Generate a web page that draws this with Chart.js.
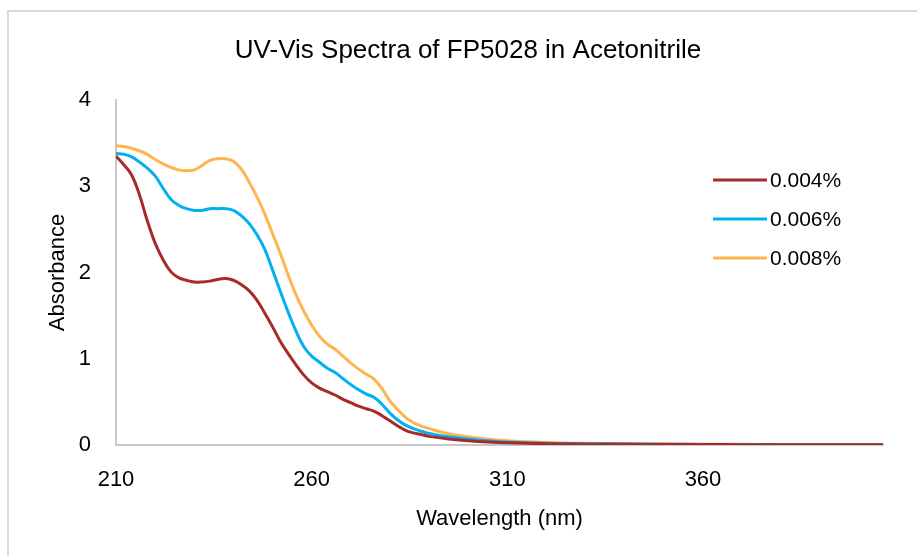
<!DOCTYPE html>
<html>
<head>
<meta charset="utf-8">
<script src="https://cdn.jsdelivr.net/npm/chart.js@4.4.1/dist/chart.umd.min.js"></script>
<style>
  html, body { margin: 0; padding: 0; background: #fff; overflow: hidden; }
  #frame {
    position: absolute; left: 7px; top: 10px; width: 1000px; height: 600px;
    border: 2px solid #d9d9d9; box-sizing: border-box;
  }
  #wrap { position: absolute; left: 0; top: 0; width: 917px; height: 556px; }
</style>
</head>
<body>
<div id="frame"></div>
<div id="wrap"><canvas id="uvChart" width="917" height="556"></canvas></div>
<script>
const wavelengths = [210, 212, 214, 216, 218, 220, 222, 224, 226, 228, 230, 232, 234, 236, 238, 240,
    242, 244, 246, 248, 250, 252, 254, 256, 258, 260, 262, 264, 266, 268, 270, 272, 274, 276, 278,
    280, 282, 284, 286, 288, 290, 295, 300, 305, 310, 320, 330, 340, 350, 360, 370, 380, 390, 400, 406];

const abs004 = [3.35, 3.25, 3.13, 2.90, 2.60, 2.34, 2.15, 2.01, 1.94, 1.91, 1.89, 1.89, 1.90, 1.92, 1.93, 1.91,
    1.86, 1.79, 1.68, 1.53, 1.37, 1.20, 1.06, 0.93, 0.81, 0.72, 0.66, 0.62, 0.58, 0.53, 0.49, 0.45, 0.42, 0.39, 0.34,
    0.28, 0.22, 0.17, 0.14, 0.12, 0.10, 0.07, 0.05, 0.035, 0.025, 0.015, 0.01, 0.008, 0.006, 0.005, 0.004, 0.003, 0.003, 0.002, 0.002];

const abs006 = [3.38, 3.37, 3.34, 3.28, 3.21, 3.12, 2.98, 2.85, 2.78, 2.74, 2.72, 2.72, 2.74, 2.74, 2.74, 2.72,
    2.66, 2.57, 2.44, 2.27, 2.03, 1.78, 1.54, 1.32, 1.14, 1.03, 0.96, 0.89, 0.84, 0.77, 0.70, 0.64, 0.59, 0.55, 0.47,
    0.37, 0.29, 0.23, 0.19, 0.16, 0.135, 0.095, 0.07, 0.05, 0.035, 0.02, 0.015, 0.012, 0.01, 0.006, 0.005, 0.004, 0.003, 0.003, 0.003];

const abs008 = [3.47, 3.46, 3.44, 3.41, 3.37, 3.31, 3.26, 3.22, 3.19, 3.18, 3.19, 3.24, 3.30, 3.32, 3.32, 3.29,
    3.20, 3.05, 2.88, 2.68, 2.45, 2.22, 1.97, 1.74, 1.55, 1.39, 1.26, 1.17, 1.11, 1.03, 0.95, 0.88, 0.82, 0.76, 0.65,
    0.51, 0.41, 0.32, 0.26, 0.22, 0.19, 0.13, 0.095, 0.07, 0.05, 0.03, 0.02, 0.017, 0.014, 0.01, 0.008, 0.006, 0.005, 0.005, 0.004];

const seriesNames = ['0.004%', '0.006%', '0.008%'];
const xTicks = [210, 260, 310, 360];
const yTicks = [0, 1, 2, 3, 4];

const colores = ['#a82b2b', '#00b0f0', '#ffb54f'];
const fuente = "'Liberation Sans', Arial, sans-serif";

function puntos(valores) {
    return wavelengths.map((w, i) => ({ x: w, y: valores[i] }));
}

// leyenda dibujada dentro del area del grafico
const leyendaPlugin = {
    id: 'leyenda',
    afterDraw(chart) {
        const ctx = chart.ctx;
        ctx.save();
        ctx.font = '21px ' + fuente;
        ctx.textBaseline = 'middle';
        ctx.fillStyle = '#000';
        chart.data.datasets.forEach((ds, i) => {
            const y = 180 + i * 39;
            ctx.strokeStyle = ds.borderColor;
            ctx.lineWidth = 3;
            ctx.beginPath();
            ctx.moveTo(713, y);
            ctx.lineTo(767, y);
            ctx.stroke();
            ctx.fillText(ds.label, 770, y + 1);
        });
        ctx.restore();
    }
};

const tituloPlugin = {
    id: 'tituloFijo',
    afterDraw(chart) {
        const ctx = chart.ctx;
        ctx.save();
        ctx.font = '26px ' + fuente;
        ctx.textAlign = 'center';
        ctx.textBaseline = 'middle';
        ctx.fillStyle = '#000';
        ctx.fillText('UV-Vis Spectra of FP5028 in Acetonitrile', 468, 51);
        ctx.restore();
    }
};

function crearGrafico() {
    const ctx = document.getElementById('uvChart').getContext('2d');
    const datasets = [abs004, abs006, abs008].map((v, i) => ({
        label: seriesNames[i],
        data: puntos(v),
        borderColor: colores[i],
        backgroundColor: colores[i],
        borderWidth: 3,
        pointRadius: 0,
        tension: 0.4,
        fill: false
    }));

    new Chart(ctx, {
        type: 'line',
        data: { datasets: datasets },
        options: {
            responsive: false,
            animation: false,
            layout: { padding: { top: 100, right: 34, left: 0, bottom: 0 } },
            plugins: {
                legend: { display: false },
                title: { display: false },
                tooltip: { enabled: false }
            },
            scales: {
                x: {
                    type: 'linear',
                    min: 210,
                    max: 406,
                    afterBuildTicks: axis => { axis.ticks = xTicks.map(v => ({ value: v })); },
                    afterFit: s => { s.height = 111; },
                    grid: { display: false },
                    border: { color: '#c8c8c8', width: 2 },
                    ticks: { color: '#000', font: { family: fuente, size: 22 }, padding: 14, maxRotation: 0 },
                    title: {
                        display: true,
                        text: 'Wavelength (nm)',
                        color: '#000',
                        font: { family: fuente, size: 22 },
                        padding: { top: 0, bottom: 24 }
                    }
                },
                y: {
                    min: 0,
                    max: 4,
                    afterBuildTicks: axis => { axis.ticks = yTicks.map(v => ({ value: v })); },
                    afterFit: s => { s.width = 116; },
                    grid: { display: false },
                    border: { color: '#c8c8c8', width: 2 },
                    ticks: { color: '#000', font: { family: fuente, size: 22 }, padding: 17 },
                    title: {
                        display: true,
                        text: 'Absorbance',
                        color: '#000',
                        font: { family: fuente, size: 22 },
                        padding: { top: 45, bottom: 0 }
                    }
                }
            }
        },
        plugins: [leyendaPlugin, tituloPlugin]
    });
}

crearGrafico();
</script>
</body>
</html>
